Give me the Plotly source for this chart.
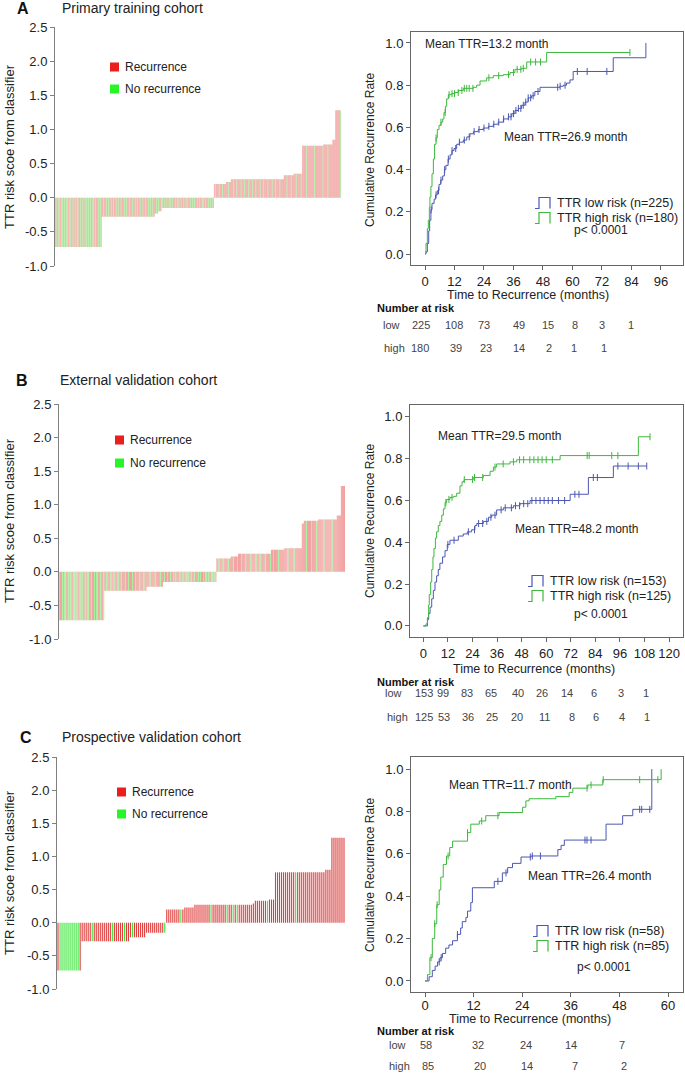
import plotly.graph_objects as go

W, H = 685, 1075
FONT = "Liberation Sans, Arial, sans-serif"

# ---------------- Waterfall data: risk-score levels and per-patient status (R=recurrence, G=no recurrence)
A_levels = [-0.72, -0.28, -0.23, -0.20, -0.15, 0.20, 0.23, 0.27, 0.33, 0.35, 0.76, 0.78, 0.85, 1.28]
A_status = [
    "RGRRGRGRRG GRRGRRGGRR GRGRRGRRGR RGGRRRGRRG RRGRGRRGRR GRRGGRRGRR RGRRGR",
    "RRGRRRGRRG RRRGRRGRRR GRRGRRRGRR RRGRRGRRRG RRRGRRRGRR GRRRGRRRGR RRGRRRGRRG RRGRR",
    "RRGRR",
    "GRRRG",
    "RGRRGRRGRR GRGRRGRRRG RRGRGRRGRR RGRRGRGRRR GRRGRRGRRR GRRGRRRGRG RRGRRRGRRG RRGR",
    "RRGRRRRGRR RRGRRRR",
    "RRRGRRR",
    "RRRGRRRRGR RRRRGRRRRG RRRRRGRRRR GRRRRGRRRR RGRRRRGRRR RRGRRRRRGR RRRGRRRRRG RRRRR",
    "RRRRGRRRRR GRRR",
    "RRRGRRRRRR GR",
    "RRRRRRGRRR RRRRRRRGRR RRRRRRRRRG",
    "RRRRRRGRRR RRR",
    "RRRR",
    "RRRRRRRG",
]
B_levels = [-0.72, -0.28, -0.22, -0.15, 0.20, 0.23, 0.27, 0.33, 0.35, 0.72, 0.76, 0.78, 0.84, 1.28]
B_status = [
    "GRRGRGGRRG RGRRGGRGRR GRGRRGRGGR RGRRGRGGRR GRRG",
    "RRGRRRGRRG RRRGRRGRRR GRRGRRRGRR GRRRGRRRGR R",
    "RRRGRRRRGR RRRGRR",
    "RGRRGRRGRR GRGRRRGRRG RRGRGRRGRR GRRRGRGRRG RGGRGRRGGR GR",
    "RRGRRRGRRR RGRR",
    "RRGRRRG",
    "RRRGRRRGRR RRGRRRRGRR RGRRRRGRRR RG",
    "RRGRRRRGRR RRR",
    "RRRGRRRRRG RRRRRRR",
    "RR",
    "RRGRRRRGRR RRGR",
    "RRRRRGRRRR RRRGRRRR",
    "RRRR",
    "RRRR",
]
C_levels = [-0.72, -0.28, -0.22, -0.15, 0.20, 0.23, 0.27, 0.29, 0.33, 0.35, 0.76, 0.80, 1.28]
C_status = [
    "RGGGGGGGGGGR",
    "RRRRRGRRRR RRRRRGRRRR RGRR",
    "RGRRRRRR",
    "RRRRRRRRRG",
    "RRRRRRRGR",
    "RRRRR",
    "RRRRRRRRGR RRRRRRGRRG RGRRRRRRR",
    "R",
    "RRRRRRG",
    "RRR",
    "RRRRRRRRRR GRRRRRRRRR RRRRR",
    "RRR",
    "RRRRRRR",
]
WF_TICKS = [-1.0, -0.5, 0.0, 0.5, 1.0, 1.5, 2.0, 2.5]
WF_TICKTEXT = ["-1.0", "-0.5", "0.0", "0.5", "1.0", "1.5", "2.0", "2.5"]

# ---------------- Kaplan-Meier data (months, cumulative recurrence rate)
A_low_t = [0, 0.4, 0.95, 1.5, 1.9, 2.4, 2.85, 3.7, 4.3, 5.0, 5.7, 6.4, 7.2, 7.9, 8.5, 9.4, 10.2, 11.0, 11.8, 12.9, 14.0,
           15.6, 17.0, 18.3, 19.7, 21.7, 23.7, 25.8, 27.8, 29.8, 31.9, 33.9, 35.3, 36.6, 38.0, 39.3, 40.7, 42.0, 43.4,
           44.7, 46.8, 54.9, 56.3, 57.6, 59.0, 60.3, 76.6, 89.9]
A_low_y = [0.0, 0.01, 0.05, 0.11, 0.16, 0.21, 0.24, 0.26, 0.28, 0.30, 0.33, 0.35, 0.37, 0.40, 0.42, 0.45, 0.47, 0.49, 0.50,
           0.52, 0.53, 0.54, 0.555, 0.57, 0.58, 0.59, 0.597, 0.605, 0.615, 0.625, 0.64, 0.65, 0.665, 0.68, 0.69, 0.705,
           0.72, 0.74, 0.75, 0.77, 0.79, 0.795, 0.80, 0.81, 0.825, 0.865, 0.93, 1.0]
A_high_t = [0, 0.4, 0.95, 1.35, 1.76, 2.0, 2.4, 2.85, 3.4, 3.9, 4.5, 5.0, 5.7, 6.5, 7.2, 7.7, 8.3, 8.8, 9.5, 10.8, 12.2,
            13.6, 15.6, 19.7, 21.0, 22.4, 25.1, 27.8, 31.9, 34.6, 36.6, 39.3, 41.4, 49.5, 83.4]
A_high_y = [0.01, 0.05, 0.12, 0.16, 0.22, 0.27, 0.32, 0.38, 0.45, 0.52, 0.55, 0.59, 0.61, 0.625, 0.64, 0.67, 0.70, 0.735,
            0.755, 0.76, 0.765, 0.775, 0.785, 0.79, 0.80, 0.82, 0.835, 0.845, 0.85, 0.86, 0.875, 0.88, 0.91, 0.955, 0.955]
A_low_cens = [2.5, 4.5, 5.5, 6.5, 8, 9.5, 11, 12.5, 14, 16, 18, 20, 22, 24, 26, 28, 30, 32, 34, 35, 36, 37, 38, 39, 40,
              41, 42, 43, 44, 46, 54, 55, 57, 62, 66, 74]
A_high_cens = [4.5, 6.5, 8.2, 9.8, 11, 12, 13.5, 15, 16, 17, 18, 19.5, 26, 30, 34, 36, 37.5, 39, 40, 43, 45, 47, 83.4]

B_low_t = [0, 2.0, 2.6, 3.3, 4.1, 4.9, 5.7, 6.5, 7.3, 8.1, 9.4, 10.6, 11.7, 13.0, 17.1, 19.5, 21.5, 23.6, 25.2, 26.1,
           29.3, 31.8, 33.4, 35.8, 39.1, 44.0, 47.2, 52.1, 71.7, 80.6, 92.8, 109.1]
B_low_y = [0.0, 0.03, 0.06, 0.09, 0.13, 0.17, 0.21, 0.24, 0.27, 0.30, 0.33, 0.36, 0.39, 0.41, 0.43, 0.44, 0.45, 0.46,
           0.48, 0.49, 0.50, 0.52, 0.53, 0.555, 0.565, 0.575, 0.585, 0.60, 0.63, 0.71, 0.765, 0.765]
B_high_t = [0, 1.3, 2.0, 2.6, 2.9, 3.6, 4.1, 4.7, 5.2, 5.9, 6.5, 7.3, 8.1, 9.0, 9.8, 10.6, 11.4, 13.0, 14.7, 16.3,
            17.9, 18.9, 19.9, 24.4, 29.3, 32.6, 34.2, 35.8, 42.3, 45.6, 66.8, 105.0, 110.7]
B_high_y = [0.0, 0.01, 0.04, 0.10, 0.15, 0.21, 0.27, 0.33, 0.37, 0.42, 0.45, 0.48, 0.50, 0.53, 0.56, 0.59, 0.605, 0.615,
            0.62, 0.635, 0.67, 0.69, 0.70, 0.71, 0.72, 0.74, 0.76, 0.775, 0.785, 0.795, 0.815, 0.905, 0.905]
B_low_cens = [12, 15, 22, 25, 27, 29, 31, 33, 35, 38, 40, 43, 45, 47, 49, 51, 53, 55, 57, 59, 61, 63, 66, 69, 74, 76,
              83, 85, 95, 100, 105, 109.1]
B_high_cens = [11, 12.5, 14, 20, 24, 25, 29, 35, 39, 44, 47, 49, 52, 54, 56, 58, 60, 63, 80, 81, 92, 95, 110.7]

C_low_t = [0, 1.0, 1.8, 2.5, 3.1, 3.7, 4.3, 5.1, 5.9, 6.8, 8.0, 8.8, 9.2, 10.1, 10.5, 11.3, 11.7, 17.1, 19.1, 20.4,
           21.6, 23.7, 26.2, 32.8, 33.6, 34.4, 44.7, 48.8, 51.3, 56.0]
C_low_y = [0.0, 0.02, 0.05, 0.07, 0.09, 0.11, 0.13, 0.155, 0.17, 0.19, 0.22, 0.25, 0.28, 0.30, 0.33, 0.37, 0.44, 0.47,
           0.51, 0.535, 0.555, 0.585, 0.59, 0.62, 0.64, 0.665, 0.74, 0.78, 0.81, 1.0]
C_high_t = [0, 0.6, 1.2, 1.8, 2.4, 2.9, 3.5, 3.9, 4.5, 5.3, 6.1, 6.8, 10.5, 11.3, 13.4, 15.0, 18.3, 24.1, 24.9, 25.7,
            32.3, 35.6, 36.5, 40.2, 43.9, 58.3]
C_high_y = [0.0, 0.03, 0.11, 0.20, 0.27, 0.36, 0.43, 0.49, 0.55, 0.59, 0.63, 0.66, 0.70, 0.74, 0.755, 0.78, 0.795, 0.82,
            0.85, 0.86, 0.87, 0.89, 0.91, 0.925, 0.95, 1.0]
C_low_cens = [3.5, 4.0, 8.0, 18.0, 20.0, 26.0, 26.5, 28.5, 39.5, 40.0, 41.0, 53.0, 53.5, 55.5]
C_high_cens = [1.5, 2.4, 3.0, 5.7, 10.5, 14.0, 18.0, 40.0, 41.0, 44.0, 53.0, 57.5]

# ---------------- Number-at-risk tables (value, month position under axis)
A_risk_low = [225, 108, 73, 49, 15, 8, 3, 1]
A_risk_low_t = [-1.75, 11.7, 24.0, 38.1, 50.0, 61.0, 72.1, 83.9]
A_risk_high = [180, 39, 23, 14, 2, 1, 1]
A_risk_high_t = [-2.0, 12.5, 24.7, 38.2, 50.6, 60.5, 72.7]
B_risk_low = [153, 99, 83, 65, 40, 26, 14, 6, 3, 1]
B_risk_low_t = [0.2, 9.8, 21.2, 32.9, 46.1, 58.1, 70.3, 83.4, 96.4, 108.8]
B_risk_high = [125, 53, 36, 25, 20, 11, 8, 6, 4, 1]
B_risk_high_t = [0.2, 10.1, 22.0, 33.7, 45.9, 59.3, 72.7, 84.2, 96.9, 109.3]
C_risk_low = [58, 32, 24, 14, 7]
C_risk_low_t = [0.2, 13.0, 24.9, 36.0, 48.6]
C_risk_high = [85, 20, 14, 7, 2]
C_risk_high_t = [0.8, 13.6, 25.3, 37.1, 49.1]

A_xticks = [0, 12, 24, 36, 48, 60, 72, 84, 96]
B_xticks = [0, 12, 24, 36, 48, 60, 72, 84, 96, 108, 120]
C_xticks = [0, 12, 24, 36, 48, 60]
KM_YTICKS = [0.0, 0.2, 0.4, 0.6, 0.8, 1.0]
KM_YTICKTEXT = ["0.0", "0.2", "0.4", "0.6", "0.8", "1.0"]

# ---------------- helpers
def X(px):
    return px / W


def Y(py):
    return 1 - py / H


BLUE = "#4b57b2"
GREEN = "#3db83d"
AXC = "#808080"
TXT = "#222222"

fig = go.Figure()
annotations = []
shapes = []


def txt(x, y, s, size=12, xanchor="left", bold=False, color=TXT, xref="paper", angle=0):
    annotations.append(dict(
        x=x if xref != "paper" else X(x), y=Y(y), xref=xref, yref="paper", text=("<b>%s</b>" % s) if bold else s,
        showarrow=False, xanchor=xanchor, yanchor="middle", textangle=angle,
        font=dict(family=FONT, size=size, color=color)))


def waterfall(levels, status, xa, ya, red, green, bw):
    xr, yr, xg, yg = [], [], [], []
    i = 0
    for lv, st in zip(levels, status):
        for ch in st.replace(" ", ""):
            if ch == "R":
                xr.append(i); yr.append(lv)
            else:
                xg.append(i); yg.append(lv)
            i += 1
    for xs, ys, c in ((xr, yr, red), (xg, yg, green)):
        fig.add_trace(go.Bar(x=xs, y=ys, width=bw, marker=dict(color=c, line=dict(width=0)),
                             xaxis=xa, yaxis=ya, showlegend=False, hoverinfo="skip"))
    return i


def step_at(ts, ys, t):
    v = ys[0]
    for a, b in zip(ts, ys):
        if a <= t:
            v = b
    return v


def km(ts, ys, cens, color, xa, ya):
    fig.add_trace(go.Scatter(x=ts, y=ys, mode="lines", line=dict(color=color, width=1, shape="hv"),
                             xaxis=xa, yaxis=ya, showlegend=False, hoverinfo="skip"))
    fig.add_trace(go.Scatter(x=cens, y=[step_at(ts, ys, t) for t in cens], mode="markers",
                             marker=dict(symbol="line-ns-open", size=5, color=color, line=dict(width=1, color=color)),
                             xaxis=xa, yaxis=ya, showlegend=False, hoverinfo="skip"))


layout_axes = {}


def wf_axes(n, xd, yd, nbars):
    layout_axes["xaxis%s" % n] = dict(domain=[X(xd[0]), X(xd[1])], range=[-0.5, nbars - 0.5], visible=False,
                                      anchor="y%s" % n, fixedrange=True)
    layout_axes["yaxis%s" % n] = dict(domain=[Y(yd[1]), Y(yd[0])], range=[-1.0, 2.5], tickvals=WF_TICKS,
                                      ticktext=WF_TICKTEXT, ticks="outside", ticklen=4, tickcolor=AXC,
                                      showline=True, linecolor=AXC, linewidth=1, showgrid=False, zeroline=False,
                                      tickfont=dict(family=FONT, size=13, color=TXT), anchor="x%s" % n)


def km_axes(n, xd, yd, xr, yr, xt, standoff=0):
    layout_axes["xaxis%s" % n] = dict(domain=[X(xd[0]), X(xd[1])], range=xr, tickvals=xt, ticks="outside",
                                      ticklen=4, tickcolor="#666", showline=True, mirror=True, linecolor="#666",
                                      linewidth=1, showgrid=False, zeroline=False, ticklabelstandoff=standoff,
                                      tickfont=dict(family=FONT, size=13, color=TXT), anchor="y%s" % n)
    layout_axes["yaxis%s" % n] = dict(domain=[Y(yd[1]), Y(yd[0])], range=yr, tickvals=KM_YTICKS,
                                      ticktext=KM_YTICKTEXT, ticks="outside", ticklen=4, tickcolor="#666",
                                      showline=True, mirror=True, linecolor="#666", linewidth=1, showgrid=False,
                                      zeroline=False, tickfont=dict(family=FONT, size=13, color=TXT),
                                      anchor="x%s" % n)


PINK = "rgba(242,160,160,0.99)"
LGREEN = "rgba(165,240,155,0.99)"
RED_C = "rgba(222,60,60,0.99)"
GREEN_C = "rgba(60,228,60,0.99)"

# ---------------- Panel A
nA = waterfall(A_levels, A_status, "x", "y", PINK, LGREEN, 1.0)
wf_axes("", (55, 341), (27, 266), nA)
km(A_low_t, A_low_y, A_low_cens, BLUE, "x2", "y2")
km(A_high_t, A_high_y, A_high_cens, GREEN, "x2", "y2")
km_axes(2, (411, 683), (32, 265), [-5.7, 105], [-0.052, 1.052], A_xticks)

# ---------------- Panel B
nB = waterfall(B_levels, B_status, "x3", "y3", PINK, LGREEN, 1.0)
wf_axes(3, (59, 345), (404, 639), nB)
km(B_low_t, B_low_y, B_low_cens, BLUE, "x4", "y4")
km(B_high_t, B_high_y, B_high_cens, GREEN, "x4", "y4")
km_axes(4, (410, 683), (405, 637), [-6.5, 126.8], [-0.053, 1.057], B_xticks)

# ---------------- Panel C
nC = waterfall(C_levels, C_status, "x5", "y5", RED_C, GREEN_C, 0.55)
wf_axes(5, (57, 345), (757, 989), nC)
km(C_low_t, C_low_y, C_low_cens, BLUE, "x6", "y6")
km(C_high_t, C_high_y, C_high_cens, GREEN, "x6", "y6")
km_axes(6, (411, 683), (757, 992), [-3.46, 63.7], [-0.052, 1.057], C_xticks, standoff=-3)

# ---------------- Panel texts
panels = [
    ("A", 23, "Primary training cohort", 60, 8, 147, (110, 67, 89)),
    ("B", 22, "External validation cohort", 58, 380, 521, (115, 440, 463)),
    ("C", 26, "Prospective validation cohort", 60, 737, 873, (117, 792, 814)),
]
for letter, lx, title, tx, ty, yty, (sqx, ry, gy) in panels:
    txt(lx, ty, letter, size=16, xanchor="center", bold=True, color="#111")
    txt(tx, ty, title, size=14)
    txt(9, yty, "TTR risk scoe from classifier", size=13, xanchor="center", angle=-90)
    for yy, col, lab in ((ry, "rgb(235,30,30)", "Recurrence"), (gy, "rgb(40,245,40)", "No recurrence")):
        shapes.append(dict(type="rect", xref="paper", yref="paper", x0=X(sqx), x1=X(sqx + 9), y0=Y(yy + 4.5),
                           y1=Y(yy - 4.5), fillcolor=col, line=dict(width=0)))
        txt(sqx + 13, yy, lab, size=12)

km_texts = [
    dict(ax="x2", mh=(423, 44, "Mean TTR=13.2 month"), ml=(502, 137, "Mean TTR=26.9 month"), ix=535,
         ly=203, hy=218, py=230, px=572, ln="TTR low risk (n=225)", hn="TTR high risk (n=180)", yty=150,
         title_y=295, nar_y=308, low_y=325, high_y=348, lowx=381, highx=382,
         rl=A_risk_low, rlt=A_risk_low_t, rh=A_risk_high, rht=A_risk_high_t, title_x=528),
    dict(ax="x4", mh=(436, 436, "Mean TTR=29.5 month"), ml=(513, 529, "Mean TTR=48.2 month"), ix=528,
         ly=581, hy=596, py=614, px=572, ln="TTR low risk (n=153)", hn="TTR high risk (n=125)", yty=521,
         title_y=669, nar_y=682, low_y=693, high_y=717, lowx=383, highx=385,
         rl=B_risk_low, rlt=B_risk_low_t, rh=B_risk_high, rht=B_risk_high_t, title_x=534),
    dict(ax="x6", mh=(447, 785, "Mean TTR=11.7 month"), ml=(526, 876, "Mean TTR=26.4 month"), ix=533,
         ly=931, hy=946, py=967, px=575, ln="TTR low risk (n=58)", hn="TTR high risk (n=85)", yty=875,
         title_y=1019, nar_y=1031, low_y=1045, high_y=1066, lowx=387, highx=387,
         rl=C_risk_low, rlt=C_risk_low_t, rh=C_risk_high, rht=C_risk_high_t, title_x=530),
]
for k in km_texts:
    txt(k["mh"][0], k["mh"][1], k["mh"][2], size=12)
    txt(k["ml"][0], k["ml"][1], k["ml"][2], size=12)
    for yy, col, lab in ((k["ly"], BLUE, k["ln"]), (k["hy"], GREEN, k["hn"])):
        x0 = k["ix"]
        yb, yt = yy + 5.5, yy - 5.5
        path = "M %f,%f L %f,%f L %f,%f L %f,%f L %f,%f" % (
            X(x0), Y(yb), X(x0 + 4), Y(yb), X(x0 + 4), Y(yt), X(x0 + 15), Y(yt), X(x0 + 15), Y(yb))
        shapes.append(dict(type="path", xref="paper", yref="paper", path=path, line=dict(color=col, width=1.2)))
        txt(x0 + 20, yy, lab, size=12.5)
    txt(k["px"], k["py"], "p&lt; 0.0001", size=12)
    txt(370, k["yty"], "Cumulative Recurrence Rate", size=12, xanchor="center", angle=-90)
    txt(k["title_x"], k["title_y"], "Time to Recurrence (months)", size=12.5, xanchor="center")
    txt(375, k["nar_y"], "Number at risk", size=11, bold=True, color="#111")
    txt(k["lowx"], k["low_y"], "low", size=11, color="#444")
    txt(k["highx"], k["high_y"], "high", size=11, color="#444")
    for v, t in zip(k["rl"], k["rlt"]):
        txt(t, k["low_y"], str(v), size=11, xanchor="center", color="#444", xref=k["ax"])
    for v, t in zip(k["rh"], k["rht"]):
        txt(t, k["high_y"], str(v), size=11, xanchor="center", color="#444", xref=k["ax"])

fig.update_layout(
    width=W, height=H, margin=dict(l=0, r=0, t=0, b=0, autoexpand=False), paper_bgcolor="white",
    plot_bgcolor="white", barmode="overlay", bargap=0.001, showlegend=False, font=dict(family=FONT, color=TXT),
    annotations=annotations, shapes=shapes, **layout_axes)

# page styling only: pin the fixed-size figure to the page's top-left corner
PAGE_CSS = ("document.documentElement.style.margin='0';document.body.style.margin='0';"
            "var g=document.getElementsByClassName('plotly-graph-div')[0];"
            "g.style.position='absolute';g.style.left='0px';g.style.top='0px';")
fig.write_html("out.html", post_script=PAGE_CSS, config={"displayModeBar": False})
